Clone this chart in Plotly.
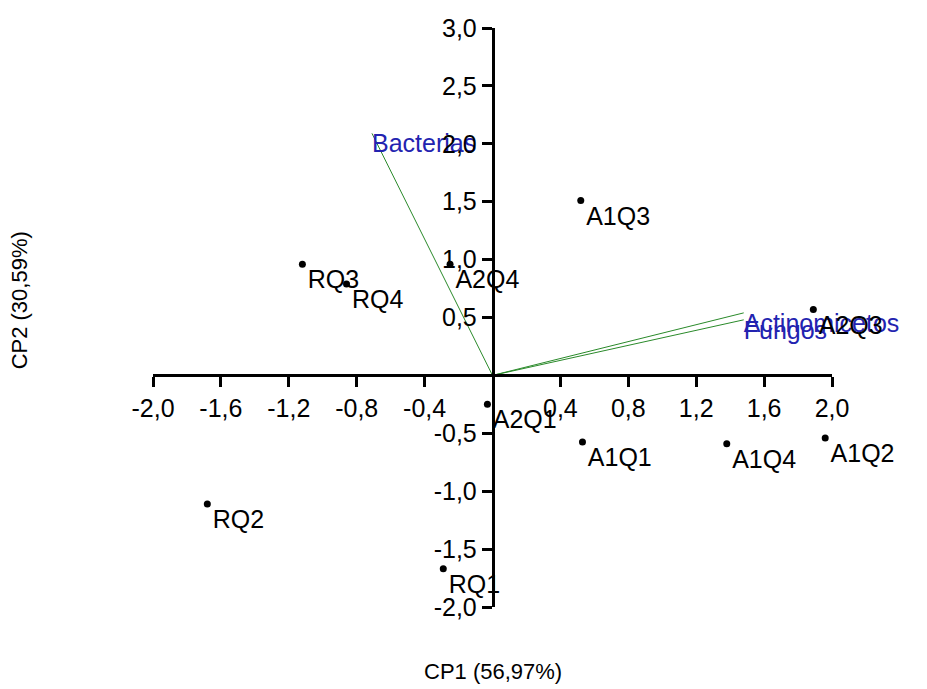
import plotly.graph_objects as go

# Sample scores on the first two principal components
samples = ["RQ1", "RQ2", "RQ3", "RQ4", "A1Q1", "A1Q2", "A1Q3", "A1Q4",
           "A2Q1", "A2Q2", "A2Q3", "A2Q4"]
cp1_scores = [-0.29, -1.68, -1.12, -0.86, 0.53, 1.96, 0.52, 1.38,
              -0.03, -2.01, 1.89, -0.25]
cp2_scores = [-1.67, -1.11, 0.96, 0.79, -0.575, -0.54, 1.51, -0.59,
              -0.25, 0.02, 0.57, 0.96]

# Variable loadings (biplot vectors)
variables = ["Bacterias", "Actinomicetos", "Fungos"]
cp1_loadings = [-0.71, 1.48, 1.48]
cp2_loadings = [2.09, 0.54, 0.48]

x_ticks = [-2.0, -1.6, -1.2, -0.8, -0.4, 0.4, 0.8, 1.2, 1.6, 2.0]
y_ticks = [-2.0, -1.5, -1.0, -0.5, 0.5, 1.0, 1.5, 2.0, 2.5, 3.0]


def fmt(v):
    return f"{v:.1f}".replace(".", ",")


FONT = "Liberation Sans, Arial, sans-serif"

fig = go.Figure()

# Loading vectors from the origin
for name, vx, vy in zip(variables, cp1_loadings, cp2_loadings):
    fig.add_trace(go.Scatter(
        x=[0, vx], y=[0, vy], mode="lines",
        line=dict(color="#2a8a2a", width=1),
        hoverinfo="skip", showlegend=False, cliponaxis=False,
    ))

fig.add_trace(go.Scatter(
    x=cp1_loadings, y=cp2_loadings, mode="text", text=variables,
    textposition="bottom right",
    textfont=dict(family=FONT, size=25, color="#2323b0"),
    showlegend=False, cliponaxis=False,
))

# Sample points
fig.add_trace(go.Scatter(
    x=cp1_scores, y=cp2_scores, mode="markers+text", text=samples,
    textposition="bottom right",
    marker=dict(color="black", size=7),
    textfont=dict(family=FONT, size=25, color="black"),
    showlegend=False, cliponaxis=False,
))

x_range = [-2.0, 2.0]
y_range = [-2.0, 3.0]

fig.update_layout(
    width=927, height=689,
    margin=dict(l=153, r=95, t=28, b=82),
    paper_bgcolor="white", plot_bgcolor="white",
    font=dict(family=FONT, color="black"),
    xaxis=dict(
        range=x_range, showgrid=False, zeroline=False,
        showline=True, linecolor="black", linewidth=2.5,
        ticks="outside", ticklen=10, tickwidth=2.5, tickcolor="black",
        tickvals=x_ticks, ticktext=[fmt(v) for v in x_ticks],
        tickfont=dict(family=FONT, size=25, color="black"),
        anchor="free",
        position=(0 - y_range[0]) / (y_range[1] - y_range[0]),
    ),
    yaxis=dict(
        range=y_range, showgrid=False, zeroline=False,
        showline=True, linecolor="black", linewidth=2.5,
        ticks="outside", ticklen=10, tickwidth=2.5, tickcolor="black",
        tickvals=y_ticks, ticktext=[fmt(v) for v in y_ticks],
        tickfont=dict(family=FONT, size=25, color="black"),
        anchor="free",
        position=(0 - x_range[0]) / (x_range[1] - x_range[0]),
    ),
    annotations=[
        dict(text="CP1 (56,97%)", xref="paper", yref="paper",
             x=0.5, y=-0.112, xanchor="center", yanchor="middle",
             showarrow=False, font=dict(family=FONT, size=22)),
        dict(text="CP2 (30,59%)", xref="paper", yref="paper",
             x=-0.197, y=0.53, xanchor="center", yanchor="middle",
             textangle=-90, showarrow=False,
             font=dict(family=FONT, size=22)),
    ],
)

fig.write_html("out.html")
